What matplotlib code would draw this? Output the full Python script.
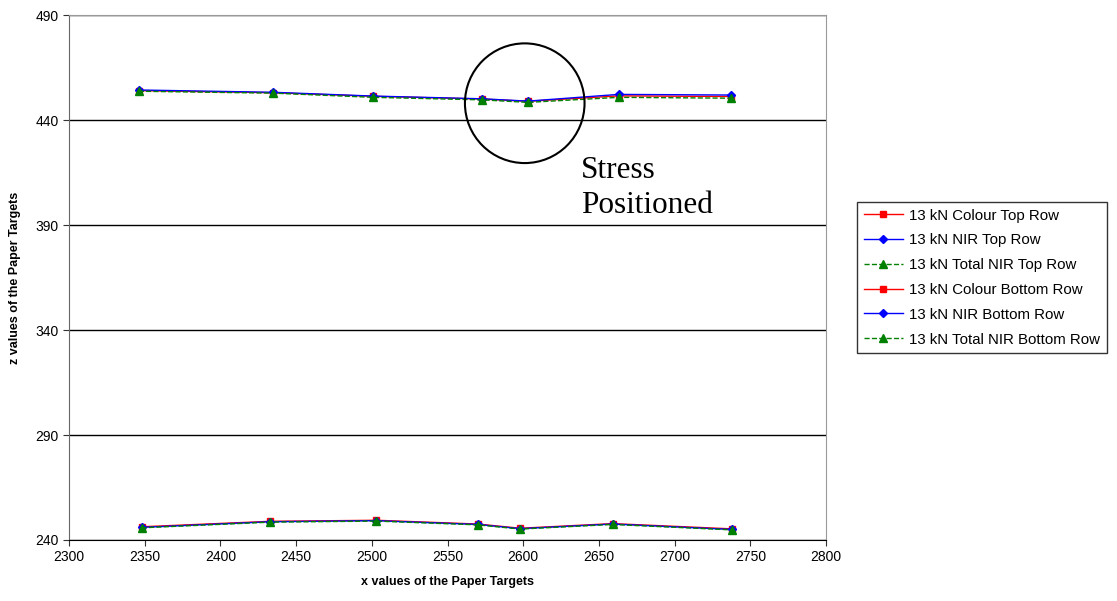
import matplotlib.pyplot as plt
from matplotlib.patches import Ellipse

# x/z positions of the paper targets
x_top = [2346, 2435, 2501, 2573, 2603, 2663, 2737]
colour_top = [454.0, 453.0, 451.3, 450.0, 448.9, 451.5, 451.2]
nir_top = [454.3, 453.2, 451.4, 450.1, 449.0, 452.2, 451.9]
total_top = [453.7, 452.8, 450.8, 449.6, 448.4, 450.8, 450.4]

x_bot = [2348, 2433, 2503, 2570, 2598, 2659, 2738]
colour_bot = [246.3, 248.9, 249.4, 247.6, 245.6, 247.8, 245.3]
nir_bot = [246.0, 248.7, 249.2, 247.4, 245.4, 247.6, 245.0]
total_bot = [245.8, 248.5, 249.0, 247.2, 245.2, 247.4, 244.8]

xticks = list(range(2300, 2801, 50))
yticks = [240, 290, 340, 390, 440, 490]

plt.rcParams['font.family'] = ['Liberation Sans', 'DejaVu Sans']

fig = plt.figure(figsize=(11.17, 6.01), dpi=100)
ax = fig.add_axes([0.0618, 0.1015, 0.6777, 0.8735])

ax.plot(x_top, colour_top, color='red', lw=1, marker='s', ms=4.5, label='13 kN Colour Top Row')
ax.plot(x_top, nir_top, color='blue', lw=1, marker='D', ms=3.8, label='13 kN NIR Top Row')
ax.plot(x_top, total_top, color='green', lw=1, ls='--', marker='^', ms=5.5, label='13 kN Total NIR Top Row')
ax.plot(x_bot, colour_bot, color='red', lw=1, marker='s', ms=4.5, label='13 kN Colour Bottom Row')
ax.plot(x_bot, nir_bot, color='blue', lw=1, marker='D', ms=3.8, label='13 kN NIR Bottom Row')
ax.plot(x_bot, total_bot, color='green', lw=1, ls='--', marker='^', ms=5.5, label='13 kN Total NIR Bottom Row')

# highlight of the stress position
ax.add_patch(Ellipse((2601, 448), 79, 57, fill=False, color='black', lw=1.5, zorder=5))
ax.text(2638, 423, 'Stress\nPositioned', family='Liberation Serif', fontsize=22.5,
        va='top', ha='left', linespacing=1.3)

ax.set_xlim(2300, 2800)
ax.set_ylim(240, 490)
ax.set_xticks(xticks)
ax.set_yticks(yticks)
ax.tick_params(labelsize=10, length=4, color='#333333')
ax.yaxis.grid(True, color='black', lw=1)
ax.set_axisbelow(True)

ax.spines['left'].set_color('#666666')
ax.spines['bottom'].set_color('black')
ax.spines['top'].set_color('#999999')
ax.spines['right'].set_color('#999999')

ax.set_xlabel('x values of the Paper Targets', fontsize=9, fontweight='bold', labelpad=8)
ax.set_ylabel('z values of the Paper Targets', fontsize=9, fontweight='bold', labelpad=10)

leg = ax.legend(loc='center left', bbox_to_anchor=(1.041, 0.5), fontsize=10.8,
                frameon=True, fancybox=False, edgecolor='black', handlelength=2.6,
                handletextpad=0.4, borderpad=0.45, labelspacing=0.72, borderaxespad=0)
leg.get_frame().set_linewidth(1)

fig.savefig('out.png', dpi=100)
